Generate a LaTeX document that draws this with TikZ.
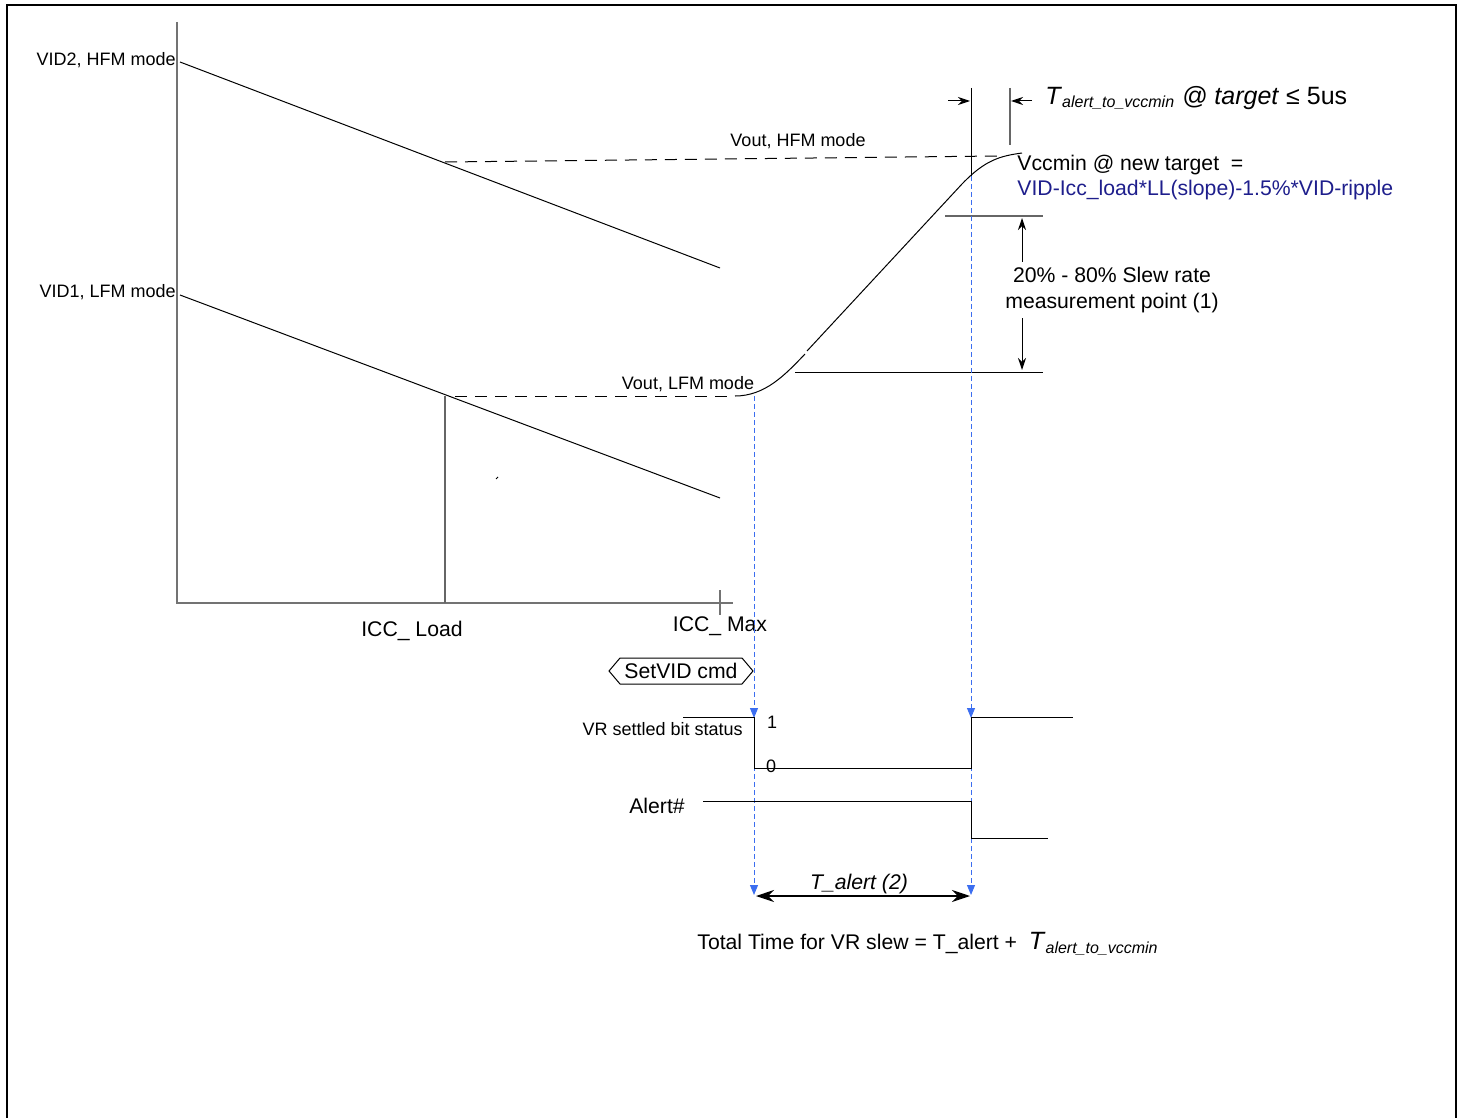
\documentclass[tikz,border=0pt]{standalone}
\usepackage{fontspec}
\setmainfont{Liberation Sans}
\usetikzlibrary{arrows.meta}
\definecolor{navytxt}{RGB}{30,30,140}
\definecolor{bluedash}{RGB}{60,110,240}
\tikzset{
  frame/.style={line width=1.2pt,black},
  axis/.style={line width=0.7pt,black!55},
  thin/.style={line width=0.5pt,black},
  grayline/.style={line width=0.7pt,black!60},
  dashline/.style={line width=0.5pt,black,dash pattern=on 6pt off 4pt},
  bluedashed/.style={line width=0.5pt,bluedash,dash pattern=on 2.5pt off 1.5pt},
  lbl/.style={font=\fontsize{9pt}{10pt}\selectfont,inner sep=0pt},
  lblbig/.style={font=\fontsize{10.6pt}{12pt}\selectfont,inner sep=0pt},
  sig/.style={line width=0.5pt,black},
}
\begin{document}
\begin{tikzpicture}[x=0.5pt,y=-0.5pt]
\useasboundingbox (0,0) rectangle (1462,1118);
% frame
\draw[frame] (7,1118) -- (7,5) -- (1456,5) -- (1456,1118);
% axes
\coordinate (ytop) at (177,22);
\coordinate (orig) at (177,603);
\coordinate (xend) at (733,603);
\draw[axis] (ytop) -- (orig) -- (xend);
\coordinate (tk1) at (720,590);
\coordinate (tk2) at (720,615);
\draw[axis] (tk1) -- (tk2);
% load lines
\coordinate (v2a) at (180,62);
\coordinate (v2b) at (720,268);
\coordinate (v1a) at (180,295);
\coordinate (v1b) at (720,498);
\draw[thin] (v2a) -- (v2b);
\draw[thin] (v1a) -- (v1b);
\node[lbl,anchor=east] (vid2) at (176,60) {VID2, HFM mode};
\node[lbl,anchor=east] (vid1) at (176,292) {VID1, LFM mode};
% dashed levels
\coordinate (hfa) at (445,162);
\coordinate (hfb) at (998,156);
\draw[dashline] (hfa) -- (hfb);
\coordinate (lfa) at (455,396);
\coordinate (lfb) at (735,396);
\draw[dashline] (lfa) -- (lfb);
\node[lbl] (vouth) at (798,141) {Vout, HFM mode};
\node[lbl] (voutl) at (688,384) {Vout, LFM mode};
% ICC load vertical
\coordinate (ila) at (445,396);
\coordinate (ilb) at (445,603);
\draw[grayline] (ila) -- (ilb);
\coordinate (spk1) at (496,479);
\coordinate (spk2) at (498,477);
\draw[thin] (spk1) -- (spk2);
\node[lblbig] (iccload) at (412,631) {ICC\_ Load};
\node[lblbig] (iccmax) at (720,626) {ICC\_ Max};
% transition curve
\coordinate (c0) at (735,396);
\coordinate (c1) at (805,354);
\coordinate (c2) at (807,351);
\coordinate (c3) at (962,184);
\coordinate (c4) at (1022,153);
\draw[thin] (c0) .. controls (765,396) and (785,375) .. (c1);
\draw[thin] (c2) -- (c3) .. controls (985,160) and (1000,156) .. (c4);
% timing verticals top
\coordinate (t1a) at (971,88);
\coordinate (t1b) at (971,176);
\draw[thin] (t1a) -- (t1b);
\coordinate (t2a) at (1010,88);
\coordinate (t2b) at (1010,145);
\draw[grayline] (t2a) -- (t2b);
\coordinate (ar1s) at (948,101);
\coordinate (ar1e) at (970,101);
\draw[thin,-{Stealth[length=6pt,width=4pt]}] (ar1s) -- (ar1e);
\coordinate (ar2s) at (1032,101);
\coordinate (ar2e) at (1011,101);
\draw[thin,-{Stealth[length=6pt,width=4pt]}] (ar2s) -- (ar2e);
\node[anchor=west,inner sep=0pt,font=\fontsize{12.5pt}{14pt}\selectfont] (talv) at (1045,98)
  {\textit{T}\textsubscript{\textit{\fontsize{8pt}{9pt}\selectfont alert\_to\_vccmin}} \textit{@ target} ≤ 5us};
% Vccmin text
\node[lblbig,anchor=west] (vcc) at (1017,165) {Vccmin @ new target\ \ =};
\node[lblbig,anchor=west,text=navytxt] (vidf) at (1017,190) {VID-Icc\_load*LL(slope)-1.5\%*VID-ripple};
% slew rate measurement
\coordinate (m1a) at (945,216);
\coordinate (m1b) at (1043,216);
\coordinate (m2a) at (795,372);
\coordinate (m2b) at (1043,372);
\draw[grayline] (m1a) -- (m1b);
\draw[thin] (m2a) -- (m2b);
\coordinate (da) at (1022,218);
\coordinate (db) at (1022,370);
\draw[thin,{Stealth[length=6pt,width=4pt]}-{Stealth[length=6pt,width=4pt]}] (da) -- (db);
\node[lblbig,fill=white,inner xsep=1pt,inner ysep=3pt,align=center,font=\fontsize{10.6pt}{12.6pt}\selectfont] (sr) at (1112,290) {20\% - 80\% Slew rate\\measurement point (1)};
% SetVID
\node[lblbig] (setvid) at (681,671) {SetVID cmd};
\draw[line width=0.5pt] (609,671) -- (620,658) -- (742,658) -- (753,671) -- (742,684) -- (620,684) -- cycle;
% blue dashed projections
\coordinate (b1t) at (754,396);
\coordinate (b1m) at (754,718);
\coordinate (b1b) at (754,895);
\coordinate (b2t) at (971,176);
\coordinate (b2m) at (971,718);
\coordinate (b2b) at (971,895);
\draw[bluedashed,-{Triangle[length=5pt,width=4pt]}] (b1t) -- (b1m);
\draw[bluedashed,-{Triangle[length=5pt,width=4pt]}] (b1m) -- (b1b);
\draw[bluedashed,-{Triangle[length=5pt,width=4pt]}] (b2t) -- (b2m);
\draw[bluedashed,-{Triangle[length=5pt,width=4pt]}] (b2m) -- (b2b);
% VR settled bit
\coordinate (s0) at (683,717);
\coordinate (s1) at (754,717);
\coordinate (s2) at (754,768);
\coordinate (s3) at (971,768);
\coordinate (s4) at (971,717);
\coordinate (s5) at (1073,717);
\draw[sig] (s0) -- (s1) -- (s2) -- (s3) -- (s4) -- (s5);
\node[lbl,anchor=east] (vrs) at (743,729) {VR settled bit status};
\node[lbl] (one) at (772,722) {1};
\node[lbl] (zero) at (771,766) {0};
% Alert#
\coordinate (a0) at (703,801);
\coordinate (a1) at (971,801);
\coordinate (a2) at (971,838);
\coordinate (a3) at (1048,838);
\draw[sig] (a0) -- (a1) -- (a2) -- (a3);
\node[lblbig] (alert) at (657,806) {Alert\#};
% T_alert
\coordinate (ta) at (756,896);
\coordinate (tb) at (970,896);
\draw[line width=0.6pt,{Stealth[length=9pt,width=6pt]}-{Stealth[length=9pt,width=6pt]}] (ta) -- (tb);
\node[lblbig,font=\fontsize{10.6pt}{12pt}\selectfont\itshape] (talert) at (859,884) {T\_alert (2)};
% total
\node[anchor=west,inner sep=0pt,font=\fontsize{10.6pt}{12pt}\selectfont] (total) at (697,944)
  {Total Time for VR slew = T\_alert + \ {\fontsize{12.5pt}{14pt}\selectfont\textit{T}}\textsubscript{\textit{\fontsize{8pt}{9pt}\selectfont alert\_to\_vccmin}}};
\end{tikzpicture}
\end{document}
